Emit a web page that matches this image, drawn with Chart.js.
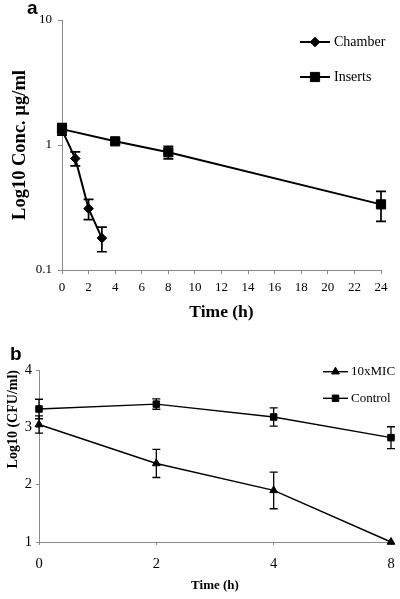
<!DOCTYPE html>
<html><head><meta charset="utf-8">
<script src="https://cdn.jsdelivr.net/npm/chart.js@4/dist/chart.umd.min.js"></script>
<style>
html,body{margin:0;padding:0;background:#fff;width:400px;height:599px;overflow:hidden}
#wa{position:absolute;left:0;top:0;width:400px;height:330px}
#wb{position:absolute;left:0;top:330px;width:400px;height:269px}
.lbl{position:absolute;font-family:"Liberation Sans",Arial,sans-serif;font-weight:bold;font-size:19px;line-height:19px;color:#000}
</style></head><body>
<div id="wa"><canvas id="ca" width="400" height="330"></canvas></div>
<div id="wb"><canvas id="cb" width="400" height="269"></canvas></div>
<div class="lbl" style="left:27px;top:-2px">a</div>
<div class="lbl" style="left:10px;top:344px">b</div>
<script>
// ---- Panel a data ----
const chamberTime = [0, 1, 2, 3];
const chamberConc = [1.32, 0.78, 0.31, 0.18];
const chamberErr  = [0.12, 0.10, 0.057, 0.04];
const insertsTime = [0, 4, 8, 24];
const insertsConc = [1.34, 1.07, 0.874, 0.335];
const insertsErr  = [0.14, 0.04, 0.10, 0.09];
const logTicksA = [0.1, 1, 10];

// ---- Panel b data ----
const timeLabelsB = ['0', '2', '4', '8'];
const micValues   = [3.05, 2.37, 1.90, 1.00];
const micErr      = [0.15, 0.245, 0.32, 0];
const controlValues = [3.32, 3.405, 3.18, 2.82];
const controlErr    = [0.17, 0.09, 0.16, 0.19];

const SERIF = '"Liberation Serif","Times New Roman",serif';
const AXIS = '#8a8a8a';

const errPlugin = {
  id: 'errBars',
  beforeDatasetsDraw(chart, args, opts) {
    const ctx = chart.ctx, ys = chart.scales.y;
    ctx.save();
    ctx.strokeStyle = '#000';
    ctx.lineWidth = opts.width;
    chart.data.datasets.forEach((ds, i) => {
      if (!ds.errors) return;
      const meta = chart.getDatasetMeta(i);
      meta.data.forEach((pt, j) => {
        const v = ds.data[j];
        const val = (typeof v === 'object') ? v.y : v;
        const e = ds.errors[j];
        if (!e) return;
        const yT = ys.getPixelForValue(val + e), yB = ys.getPixelForValue(val - e);
        const x = pt.x, h = opts.cap / 2;
        ctx.beginPath();
        ctx.moveTo(x, yT); ctx.lineTo(x, yB);
        ctx.moveTo(x - h, yT); ctx.lineTo(x + h, yT);
        ctx.moveTo(x - h, yB); ctx.lineTo(x + h, yB);
        ctx.stroke();
      });
    });
    ctx.restore();
  }
};

const legendPlugin = {
  id: 'boxLegend',
  afterDraw(chart, args, opts) {
    const ctx = chart.ctx;
    ctx.save();
    chart.data.datasets.forEach((ds, i) => {
      const y = opts.y0 + i * opts.dy;
      ctx.strokeStyle = '#000';
      ctx.lineWidth = ds.borderWidth;
      ctx.beginPath(); ctx.moveTo(opts.x0, y); ctx.lineTo(opts.x0 + opts.len, y); ctx.stroke();
      ctx.fillStyle = '#000';
      ctx.lineWidth = 1;
      Chart.helpers.drawPoint(ctx, {pointStyle: ds.pointStyle, radius: ds.pointRadius, borderWidth: 1, rotation: 0}, opts.x0 + opts.len / 2, y);
      ctx.font = opts.font;
      ctx.textBaseline = 'middle';
      ctx.textAlign = 'left';
      ctx.fillText(ds.label, opts.x0 + opts.len + opts.gap, y);
    });
    ctx.restore();
  }
};

new Chart(document.getElementById('ca'), {
  type: 'line',
  data: {
    datasets: [
      { label: 'Chamber', data: chamberTime.map((t, i) => ({x: t, y: chamberConc[i]})), errors: chamberErr,
        borderColor: '#000', backgroundColor: '#000', borderWidth: 2, pointStyle: 'rectRot', pointRadius: 4.8,
        pointBorderWidth: 1, tension: 0, clip: false },
      { label: 'Inserts', data: insertsTime.map((t, i) => ({x: t, y: insertsConc[i]})), errors: insertsErr,
        borderColor: '#000', backgroundColor: '#000', borderWidth: 2, pointStyle: 'rect', pointRadius: 6.5,
        pointBorderWidth: 1, tension: 0, clip: false }
    ]
  },
  options: {
    responsive: false, animation: false, events: [],
    layout: { padding: { top: 20, right: 19, left: 0, bottom: 0 } },
    plugins: {
      legend: { display: false }, tooltip: { enabled: false },
      errBars: { width: 1.7, cap: 10 },
      boxLegend: { x0: 300, len: 30, gap: 4, y0: 42, dy: 35, font: '14px ' + SERIF }
    },
    scales: {
      x: {
        type: 'linear', min: 0, max: 24,
        ticks: { stepSize: 2, color: '#000', font: { family: SERIF, size: 13 }, padding: 6, maxRotation: 0 },
        grid: { drawOnChartArea: false, drawTicks: true, tickLength: 4, color: AXIS },
        border: { color: AXIS, width: 1 },
        title: { display: true, text: 'Time (h)', color: '#000', font: { family: SERIF, size: 17.5, weight: 'bold' }, padding: { top: 0, bottom: 7 } },
        afterFit: s => { s.height = 60; }
      },
      y: {
        type: 'logarithmic', min: 0.1, max: 10,
        afterBuildTicks: s => { s.ticks = logTicksA.map(v => ({ value: v })); },
        ticks: { color: '#000', font: { family: SERIF, size: 13 }, padding: 6, callback: v => String(v) },
        grid: { drawOnChartArea: false, drawTicks: true, tickLength: 4, color: AXIS },
        border: { color: AXIS, width: 1 },
        title: { display: true, text: 'Log10 Conc. µg/ml', color: '#000', font: { family: SERIF, size: 18.5, weight: 'bold' }, padding: { top: 9, bottom: 0 } },
        afterFit: s => { s.width = 62; }
      }
    }
  },
  plugins: [errPlugin, legendPlugin]
});

new Chart(document.getElementById('cb'), {
  type: 'line',
  data: {
    labels: timeLabelsB,
    datasets: [
      { label: '10xMIC', data: micValues, errors: micErr,
        borderColor: '#000', backgroundColor: '#000', borderWidth: 1.4, pointStyle: 'triangle', pointRadius: 4.5,
        pointBorderWidth: 1, tension: 0, clip: false },
      { label: 'Control', data: controlValues, errors: controlErr,
        borderColor: '#000', backgroundColor: '#000', borderWidth: 1.4, pointStyle: 'rect', pointRadius: 4.6,
        pointBorderWidth: 1, tension: 0, clip: false }
    ]
  },
  options: {
    responsive: false, animation: false, events: [],
    layout: { padding: { top: 40, right: 9, left: 0, bottom: 0 } },
    plugins: {
      legend: { display: false }, tooltip: { enabled: false },
      errBars: { width: 1.3, cap: 8 },
      boxLegend: { x0: 323, len: 25, gap: 3, y0: 41.7, dy: 26.6, font: '13px ' + SERIF }
    },
    scales: {
      x: {
        type: 'category', offset: false,
        ticks: { color: '#000', font: { family: SERIF, size: 14.5 }, padding: 10, maxRotation: 0 },
        grid: { offset: false, drawOnChartArea: false, drawTicks: true, tickLength: 3, color: AXIS },
        border: { color: AXIS, width: 1 },
        title: { display: true, text: 'Time (h)', color: '#000', font: { family: SERIF, size: 13, weight: 'bold' }, padding: { top: 0, bottom: 5.5 } },
        afterFit: s => { s.height = 57; s.paddingLeft = 0; s.paddingRight = 4; }
      },
      y: {
        type: 'linear', min: 1, max: 4,
        ticks: { stepSize: 1, color: '#000', font: { family: SERIF, size: 14.5 }, padding: 4 },
        grid: { drawOnChartArea: false, drawTicks: true, tickLength: 3, color: AXIS },
        border: { color: AXIS, width: 1 },
        title: { display: true, text: 'Log10 (CFU/ml)', align: 'end', color: '#000', font: { family: SERIF, size: 14, weight: 'bold' }, padding: { top: 5, bottom: 0 } },
        afterFit: s => { s.width = 39; }
      }
    }
  },
  plugins: [errPlugin, legendPlugin]
});
</script>
</body></html>
